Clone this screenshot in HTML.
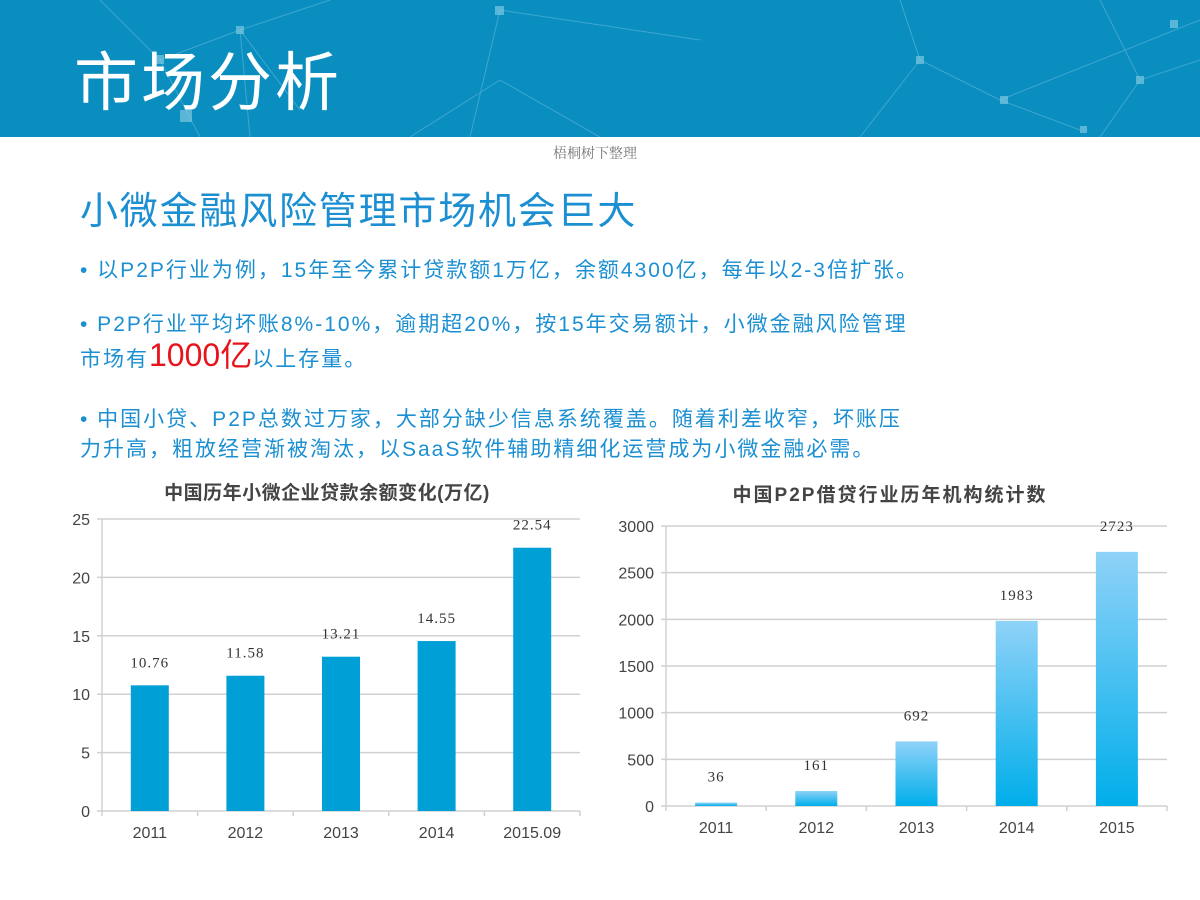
<!DOCTYPE html>
<html><head><meta charset="utf-8"><style>
body{margin:0;width:1200px;height:900px;overflow:hidden;background:#fff;font-family:"Liberation Sans","Noto Sans CJK SC",sans-serif;position:relative}
.hdr{position:absolute;left:0;top:0;width:1200px;height:137px;background:#0a8ebf;overflow:hidden}
.ttl{position:absolute;left:74px;top:32px;font-size:64px;color:#fff;font-weight:400;letter-spacing:3px}
.src{position:absolute;left:553px;top:143px;font-size:14px;color:#777;font-family:"Noto Serif CJK SC",serif}
.h2{position:absolute;left:80px;top:180px;font-size:38px;color:#1b8fd2;letter-spacing:1.8px}
.p{position:absolute;left:80px;font-size:21px;color:#1b8fd2;line-height:30px;letter-spacing:2px}
.red{color:#e8141c;font-size:32px;letter-spacing:0}
</style></head><body>
<div class="hdr">
<svg width="1200" height="137">
<g stroke="#5fb8d8" stroke-width="1" opacity="0.6" fill="none">
<path d="M100 0 L160 60 L240 30 L300 110 M160 60 L200 137 M240 30 L330 0 M240 30 L250 137 M500 10 L470 137 M500 10 L700 40 M500 80 L600 137 M500 80 L410 137 M900 0 L920 60 M920 60 L1000 100 L1080 130 M920 60 L860 137 M1100 0 L1140 80 L1200 60 M1140 80 L1100 137 M1000 100 L1200 20"/>
</g>
<g fill="#7cc8e2" opacity="0.7">
<rect x="155" y="55" width="9" height="9"/><rect x="236" y="26" width="8" height="8"/><rect x="495" y="6" width="9" height="9"/><rect x="180" y="110" width="12" height="12"/><rect x="916" y="56" width="8" height="8"/><rect x="1000" y="96" width="8" height="8"/><rect x="1080" y="126" width="7" height="7"/><rect x="1136" y="76" width="8" height="8"/><rect x="1170" y="20" width="8" height="8"/>
</g></svg>
<div class="ttl">市场分析</div>
</div>
<div class="src">梧桐树下整理</div>
<div class="h2">小微金融风险管理市场机会巨大</div>
<div class="p" style="top:256px">• 以P2P行业为例，15年至今累计贷款额1万亿，余额4300亿，每年以2-3倍扩张。</div>
<div class="p" style="top:310px">• P2P行业平均坏账8%-10%，逾期超20%，按15年交易额计，小微金融风险管理<br>市场有<span class="red">1000亿</span>以上存量。</div>
<div class="p" style="top:405px">• 中国小贷、P2P总数过万家，大部分缺少信息系统覆盖。随着利差收窄，坏账压<br>力升高，粗放经营渐被淘汰，以SaaS软件辅助精细化运营成为小微金融必需。</div>
<svg width="1200" height="900" style="position:absolute;left:0;top:0" id="ch">
<defs><linearGradient id="g" x1="0" y1="0" x2="0" y2="1"><stop offset="0" stop-color="#8fd2f8"/><stop offset="1" stop-color="#00aeea"/></linearGradient></defs>
</svg>
<script>
const cats1=["2011","2012","2013","2014","2015.09"];
const vals1=[10.76,11.58,13.21,14.55,22.54];
const lbl1=["10.76","11.58","13.21","14.55","22.54"];
const ticks1=[0,5,10,15,20,25];
const cats2=["2011","2012","2013","2014","2015"];
const vals2=[36,161,692,1983,2723];
const ticks2=[0,500,1000,1500,2000,2500,3000];
const svg=document.getElementById('ch');const NS="http://www.w3.org/2000/svg";
function mk(t,a,txt){const e=document.createElementNS(NS,t);for(const k in a)e.setAttribute(k,a[k]);if(txt!=null)e.textContent=txt;svg.appendChild(e);return e;}
function chart(o){
 const y=v=>o.y0-(v/o.max)*(o.y0-o.y1);const bw=(o.x1-o.x0)/o.cats.length;
 let t=mk('text',{x:o.tx,y:o.ty,'font-size':19,'font-weight':'bold',fill:'#444','text-anchor':'middle','letter-spacing':o.ls},o.title);
 
 
 o.ticks.forEach(v=>{let l=mk('line',{x1:o.x0-5,x2:o.x1,y1:y(v),y2:y(v),stroke:'#d0d0d0','stroke-width':1.5});
  
  
  let tx=mk('text',{x:o.x0-12,y:y(v)+6,'font-size':16,fill:'#444','text-anchor':'end'},String(v));
  
  });
 mk('line',{x1:o.x0,x2:o.x0,y1:o.y1,y2:o.y0+5,stroke:'#d0d0d0','stroke-width':1.5});
 o.cats.forEach((c,i)=>{const cx=o.x0+bw*(i+.5);
  mk('line',{x1:o.x0+bw*(i+1),x2:o.x0+bw*(i+1),y1:o.y0,y2:o.y0+5,stroke:'#d0d0d0','stroke-width':1.5});
  let r=mk('rect',{x:cx-o.w/2,y:y(o.vals[i]),width:o.w,height:o.y0-y(o.vals[i]),fill:o.fill});
  
  
  let lb=mk('text',{x:cx,y:y(o.vals[i])-o.lo,'font-size':15,fill:'#333','text-anchor':'middle','font-family':'Liberation Serif,serif','letter-spacing':1},o.lbl[i]);
  
  
  let xl=mk('text',{x:cx,y:o.y0+27,'font-size':16,fill:'#444','text-anchor':'middle'},c);
  
  });
}
chart({id:'loan-chart',cats:cats1,vals:vals1,lbl:lbl1,ticks:ticks1,max:25,x0:102,x1:580,y0:811,y1:519,w:38,fill:'#009fd6',lo:18,title:'中国历年小微企业贷款余额变化(万亿)',tx:327,ty:499,ls:0.5});
chart({id:'p2p-chart',cats:cats2,vals:vals2,lbl:vals2.map(String),ticks:ticks2,max:3000,x0:666,x1:1167,y0:806,y1:526,w:42,fill:'url(#g)',lo:21,title:'中国P2P借贷行业历年机构统计数',tx:890,ty:501,ls:2});
</script>
</body></html>
